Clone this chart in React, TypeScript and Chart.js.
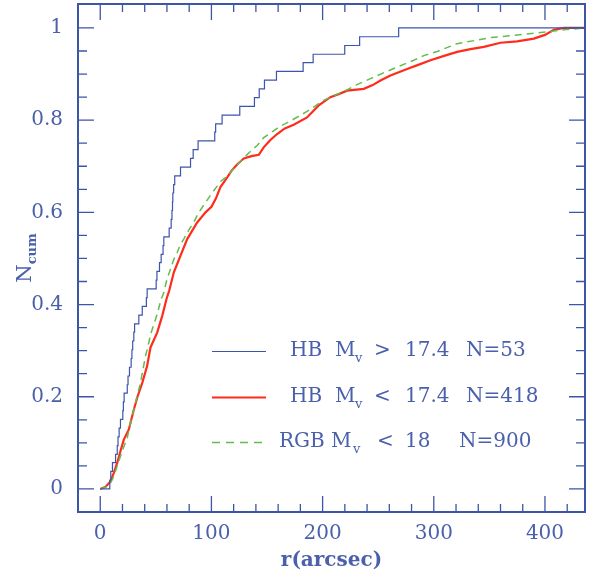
import React, { useEffect, useRef } from 'react';
import { Chart, registerables } from 'chart.js';

Chart.register(...registerables);

// ---- data (r in arcsec, cumulative fraction) ----
const blueR = [0, 8.6, 9.5, 11, 13.8, 15.3, 16, 17, 18.2, 20.3, 20.8, 21.5, 24.3, 25, 26.3, 27.8, 28.5, 29.2, 30.2, 30.9, 34.7, 37.8, 41.5, 42.2, 50.3, 51, 53.3, 54.8, 56.5, 57.2, 62, 63.8, 64.5, 65, 65.3, 66, 67, 72.2, 81.2, 83.6, 88, 103, 103.8, 109.6, 125.5, 138.7, 143, 147.7, 158.5, 182.5, 191.5, 219.9, 233.3, 268.4, 436];
const blueN = [0, 0.019, 0.038, 0.057, 0.075, 0.094, 0.113, 0.132, 0.151, 0.17, 0.189, 0.208, 0.226, 0.245, 0.264, 0.283, 0.302, 0.321, 0.34, 0.358, 0.377, 0.396, 0.415, 0.434, 0.453, 0.472, 0.491, 0.509, 0.528, 0.547, 0.566, 0.585, 0.604, 0.623, 0.642, 0.66, 0.679, 0.698, 0.717, 0.736, 0.755, 0.774, 0.792, 0.811, 0.83, 0.849, 0.868, 0.887, 0.906, 0.925, 0.943, 0.962, 0.981, 1.0, 1.0];

const redR = [0, 5, 9.3, 12.2, 15.3, 18.2, 21.2, 25.7, 30.2, 33.5, 37.8, 42.2, 45.2, 51.2, 55.7, 59.6, 62, 66.2, 72.2, 78.2, 87.2, 94.7, 100, 104, 108.1, 114.2, 118, 123.1, 129.1, 136, 142.6, 147, 153, 159.1, 166, 174, 186, 196.5, 207, 215, 222, 237, 245, 252, 261, 276, 286, 297, 310, 321, 333, 345, 360, 375, 390, 400, 408, 417, 436];
const redN = [0, 0.005, 0.017, 0.035, 0.057, 0.082, 0.107, 0.129, 0.172, 0.2, 0.23, 0.267, 0.307, 0.339, 0.375, 0.412, 0.43, 0.47, 0.506, 0.542, 0.578, 0.6, 0.612, 0.63, 0.655, 0.676, 0.69, 0.704, 0.717, 0.722, 0.725, 0.741, 0.757, 0.77, 0.782, 0.79, 0.806, 0.832, 0.85, 0.857, 0.864, 0.868, 0.876, 0.886, 0.897, 0.911, 0.92, 0.93, 0.94, 0.948, 0.954, 0.959, 0.968, 0.971, 0.977, 0.985, 0.996, 1.0, 1.0];

const greenR = [0, 5, 9, 12.2, 15, 18.2, 21, 24.3, 27, 30.2, 33, 36.2, 38.5, 40.7, 43, 45.2, 48, 51.2, 54.8, 57.2, 60, 63.2, 66, 69.2, 72, 75.1, 80, 84.1, 88, 93.1, 100, 105.2, 108.1, 114.2, 120, 129.1, 135, 141.1, 147, 156, 162, 171, 186, 201, 210, 219, 231, 243, 258, 270, 282, 291, 303, 321, 335, 351, 372, 396, 417, 436];
const greenN = [0, 0.004, 0.012, 0.027, 0.048, 0.071, 0.09, 0.111, 0.14, 0.172, 0.2, 0.23, 0.26, 0.288, 0.31, 0.335, 0.355, 0.379, 0.412, 0.426, 0.455, 0.477, 0.497, 0.513, 0.53, 0.542, 0.563, 0.578, 0.597, 0.616, 0.64, 0.657, 0.667, 0.678, 0.695, 0.718, 0.732, 0.745, 0.762, 0.777, 0.787, 0.798, 0.819, 0.843, 0.853, 0.862, 0.877, 0.89, 0.906, 0.918, 0.93, 0.94, 0.949, 0.966, 0.972, 0.979, 0.984, 0.99, 0.996, 1.0];

const xTickValues = [0, 100, 200, 300, 400];
const yTickValues = [0, 0.2, 0.4, 0.6, 0.8, 1];
const yTickLabels = ['0', '0.2', '0.4', '0.6', '0.8', '1'];
const xTitle = 'r(arcsec)';

const legendRows = [
  { pre: 'HB', rel: '>', val: '17.4', n: 'N=53' },
  { pre: 'HB', rel: '<', val: '17.4', n: 'N=418' },
  { pre: 'RGB', rel: '<', val: '18', n: 'N=900' },
];

// ---- styles ----
const FRAME = '#3d55a6';
const TEXT = '#4a60ab';
const BLUE = '#3c55aa';
const RED = '#ff2b1c';
const GREEN = '#62bd4e';
const FONT = '"DejaVu Serif", serif';

const toPts = (r: number[], n: number[]) => r.map((x, i) => ({ x, y: n[i] }));

const decorPlugin = {
  id: 'decor',
  afterDraw(chart: any) {
    const { ctx, chartArea: a, scales } = chart;
    const xs = scales.x;
    const ys = scales.y;
    ctx.save();
    ctx.strokeStyle = FRAME;
    ctx.lineWidth = 1.3;
    ctx.beginPath();
    for (let i = 0; i <= 21; i++) {
      const v = i * 20;
      const px = xs.getPixelForValue(v);
      const len = v % 100 === 0 ? 16 : 8;
      ctx.moveTo(px, a.bottom);
      ctx.lineTo(px, a.bottom - len);
      ctx.moveTo(px, a.top);
      ctx.lineTo(px, a.top + len);
    }
    for (let i = 0; i <= 20; i++) {
      const v = i * 0.05;
      const py = ys.getPixelForValue(v);
      const len = i % 4 === 0 ? 16 : 9;
      ctx.moveTo(a.left, py);
      ctx.lineTo(a.left + len, py);
      ctx.moveTo(a.right, py);
      ctx.lineTo(a.right - len, py);
    }
    ctx.stroke();
    ctx.lineWidth = 2;
    ctx.strokeRect(a.left, a.top, a.right - a.left, a.bottom - a.top);

    // legend
    const lineX0 = 212, lineX1 = 266;
    const rowsY = [356, 402, 447];
    const styles = [
      { c: BLUE, w: 1.2, d: [] as number[] },
      { c: RED, w: 2.2, d: [] as number[] },
      { c: GREEN, w: 1.5, d: [8, 6] },
    ];
    legendRows.forEach((row, i) => {
      const by = rowsY[i];
      const s = styles[i];
      ctx.strokeStyle = s.c;
      ctx.lineWidth = s.w;
      ctx.setLineDash(s.d);
      ctx.beginPath();
      ctx.moveTo(lineX0, by - 4.5);
      ctx.lineTo(lineX1, by - 4.5);
      ctx.stroke();
      ctx.setLineDash([]);
      ctx.fillStyle = TEXT;
      ctx.textBaseline = 'alphabetic';
      ctx.textAlign = 'left';
      ctx.font = `20px ${FONT}`;
      const isRGB = i === 2;
      ctx.fillText(row.pre, isRGB ? 279 : 290, by);
      ctx.fillText('M', isRGB ? 331 : 335, by);
      ctx.font = `13px ${FONT}`;
      ctx.fillText('v', isRGB ? 353 : 355, by + 6);
      ctx.font = `20px ${FONT}`;
      ctx.fillText(row.rel, isRGB ? 377 : 374, by);
      ctx.fillText(row.val, 405, by);
      ctx.fillText(row.n, isRGB ? 459 : 466, by);
    });

    // y title: N_cum
    ctx.translate(31, 258);
    ctx.rotate(-Math.PI / 2);
    ctx.fillStyle = TEXT;
    ctx.font = `21px ${FONT}`;
    const wN = ctx.measureText('N').width;
    ctx.font = `bold 13px ${FONT}`;
    const wc = ctx.measureText('cum').width;
    const start = -(wN + wc) / 2;
    ctx.font = `21px ${FONT}`;
    ctx.fillText('N', start, 0);
    ctx.font = `bold 13px ${FONT}`;
    ctx.fillText('cum', start + wN, 5);
    ctx.restore();
  },
};

export default function App() {
  const ref = useRef<HTMLCanvasElement | null>(null);
  useEffect(() => {
    if (!ref.current) return;
    const chart = new Chart(ref.current, {
      type: 'line',
      data: {
        datasets: [
          {
            label: 'HB Mv > 17.4 N=53',
            data: toPts(blueR, blueN),
            borderColor: BLUE,
            borderWidth: 1.2,
            stepped: 'before',
            pointRadius: 0,
            pointHoverRadius: 0,
            fill: false,
          },
          {
            label: 'RGB Mv < 18 N=900',
            data: toPts(greenR, greenN),
            borderColor: GREEN,
            borderWidth: 1.5,
            borderDash: [7, 5],
            pointRadius: 0,
            pointHoverRadius: 0,
            fill: false,
            tension: 0,
          },
          {
            label: 'HB Mv < 17.4 N=418',
            data: toPts(redR, redN),
            borderColor: RED,
            borderWidth: 2.2,
            pointRadius: 0,
            pointHoverRadius: 0,
            fill: false,
            tension: 0,
          },
        ],
      },
      options: {
        animation: false,
        responsive: true,
        maintainAspectRatio: false,
        layout: { autoPadding: false, padding: { top: 4, right: 5, left: 0, bottom: 0 } },
        plugins: { legend: { display: false }, tooltip: { enabled: false }, title: { display: false } },
        scales: {
          x: {
            type: 'linear',
            min: -20,
            max: 436,
            grid: { display: false, drawTicks: false },
            border: { display: false },
            afterBuildTicks: (s: any) => { s.ticks = xTickValues.map((v) => ({ value: v })); },
            afterFit: (s: any) => { s.height = 66; s.paddingLeft = 0; s.paddingRight = 0; },
            ticks: {
              padding: 10,
              color: TEXT,
              font: { family: FONT, size: 20 },
              callback: (v: any) => String(v),
              maxRotation: 0,
              autoSkip: false,
            },
            title: {
              display: true,
              text: xTitle,
              color: TEXT,
              font: { family: FONT, size: 20, weight: 'bold' },
              padding: { top: 0, bottom: 5 },
            },
          },
          y: {
            type: 'linear',
            min: -0.05,
            max: 1.052,
            grid: { display: false, drawTicks: false },
            border: { display: false },
            afterBuildTicks: (s: any) => { s.ticks = yTickValues.map((v) => ({ value: v })); },
            afterFit: (s: any) => { s.width = 78; s.paddingTop = 0; s.paddingBottom = 0; },
            ticks: {
              padding: 15,
              color: TEXT,
              font: { family: FONT, size: 20 },
              callback: (v: any) => {
                const i = yTickValues.indexOf(v);
                return i >= 0 ? yTickLabels[i] : '';
              },
              autoSkip: false,
            },
          },
        },
      },
      plugins: [decorPlugin],
    });
    return () => chart.destroy();
  }, []);
  return (
    <div style={{ position: 'fixed', left: 0, top: 0, width: 590, height: 578, background: '#fff' }}>
      <canvas ref={ref} />
    </div>
  );
}
